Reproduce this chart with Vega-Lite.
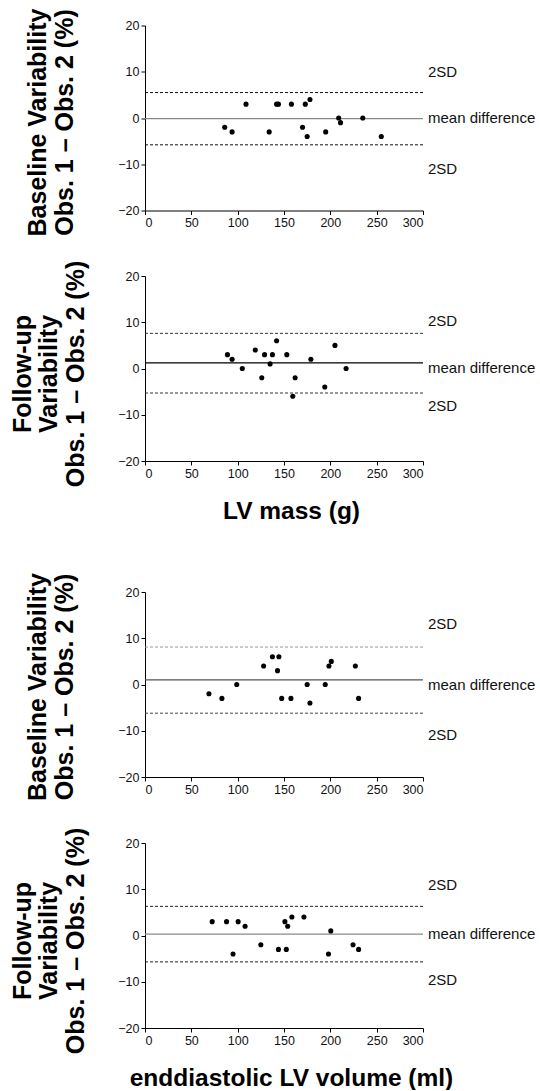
{
  "$schema": "https://vega.github.io/schema/vega-lite/v6.json",
  "background": "white",
  "padding": {"left": 10, "top": 7.5, "right": 0, "bottom": 0},
  "config": {
    "font": "Liberation Sans",
    "view": {"stroke": null},
    "axis": {
      "grid": false, "domainColor": "#000", "domainWidth": 1, "tickColor": "#000", "tickSize": 4,
      "labelFont": "Liberation Sans", "labelFontSize": 12.5, "labelColor": "#111", "labelPadding": 2,
      "titleFont": "Liberation Sans", "titleFontSize": 24.5, "titleFontWeight": "bold", "titleColor": "#000"
    },
    "axisY": {"titleFontSize": 25}
  },
  "datasets": {
    "points": [
      {"panel": 1, "x": 86, "y": -2}, {"panel": 1, "x": 94, "y": -3}, {"panel": 1, "x": 109, "y": 3}, {"panel": 1, "x": 134, "y": -3},
      {"panel": 1, "x": 142, "y": 3}, {"panel": 1, "x": 144, "y": 3}, {"panel": 1, "x": 158, "y": 3}, {"panel": 1, "x": 170, "y": -2},
      {"panel": 1, "x": 173, "y": 3}, {"panel": 1, "x": 175, "y": -4}, {"panel": 1, "x": 178, "y": 4}, {"panel": 1, "x": 195, "y": -3},
      {"panel": 1, "x": 209, "y": 0}, {"panel": 1, "x": 211, "y": -1}, {"panel": 1, "x": 235, "y": 0}, {"panel": 1, "x": 255, "y": -4},
      {"panel": 2, "x": 89, "y": 3}, {"panel": 2, "x": 94, "y": 2}, {"panel": 2, "x": 105, "y": 0}, {"panel": 2, "x": 119, "y": 4},
      {"panel": 2, "x": 126, "y": -2}, {"panel": 2, "x": 129, "y": 3}, {"panel": 2, "x": 135, "y": 1}, {"panel": 2, "x": 137.5, "y": 3},
      {"panel": 2, "x": 142, "y": 6}, {"panel": 2, "x": 153, "y": 3}, {"panel": 2, "x": 159.5, "y": -6}, {"panel": 2, "x": 162, "y": -2},
      {"panel": 2, "x": 179, "y": 2}, {"panel": 2, "x": 194, "y": -4}, {"panel": 2, "x": 205, "y": 5}, {"panel": 2, "x": 217, "y": 0},
      {"panel": 3, "x": 69, "y": -2}, {"panel": 3, "x": 83, "y": -3}, {"panel": 3, "x": 99, "y": 0}, {"panel": 3, "x": 128, "y": 4},
      {"panel": 3, "x": 137.5, "y": 6}, {"panel": 3, "x": 144.5, "y": 6}, {"panel": 3, "x": 143, "y": 3}, {"panel": 3, "x": 147.5, "y": -3},
      {"panel": 3, "x": 157.5, "y": -3}, {"panel": 3, "x": 175, "y": 0}, {"panel": 3, "x": 178, "y": -4}, {"panel": 3, "x": 194.5, "y": 0},
      {"panel": 3, "x": 198.5, "y": 4}, {"panel": 3, "x": 201, "y": 5}, {"panel": 3, "x": 227, "y": 4}, {"panel": 3, "x": 230.5, "y": -3},
      {"panel": 4, "x": 72.5, "y": 3}, {"panel": 4, "x": 88, "y": 3}, {"panel": 4, "x": 95, "y": -4}, {"panel": 4, "x": 100.5, "y": 3},
      {"panel": 4, "x": 108, "y": 2}, {"panel": 4, "x": 125, "y": -2}, {"panel": 4, "x": 144, "y": -3}, {"panel": 4, "x": 151, "y": 3},
      {"panel": 4, "x": 152.5, "y": -3}, {"panel": 4, "x": 154, "y": 2}, {"panel": 4, "x": 158.5, "y": 4}, {"panel": 4, "x": 171.5, "y": 4},
      {"panel": 4, "x": 198, "y": -4}, {"panel": 4, "x": 200.5, "y": 1}, {"panel": 4, "x": 224.5, "y": -2}, {"panel": 4, "x": 230.5, "y": -3}
    ],
    "lines": [
      {"panel": 1, "kind": "mean", "y": -0.15}, {"panel": 1, "kind": "upper", "y": 5.5}, {"panel": 1, "kind": "lower", "y": -5.8},
      {"panel": 2, "kind": "mean", "y": 1.2}, {"panel": 2, "kind": "upper", "y": 7.6}, {"panel": 2, "kind": "lower", "y": -5.3},
      {"panel": 3, "kind": "mean", "y": 1.0}, {"panel": 3, "kind": "upper", "y": 8.1}, {"panel": 3, "kind": "lower", "y": -6.2},
      {"panel": 4, "kind": "mean", "y": 0.3}, {"panel": 4, "kind": "upper", "y": 6.3}, {"panel": 4, "kind": "lower", "y": -5.7}
    ],
    "labels": [
      {"panel": 1, "label": "2SD", "y": 10.0}, {"panel": 1, "label": "mean difference", "y": 0}, {"panel": 1, "label": "2SD", "y": -11.1},
      {"panel": 2, "label": "2SD", "y": 10.2}, {"panel": 2, "label": "mean difference", "y": 0.1}, {"panel": 2, "label": "2SD", "y": -8.2},
      {"panel": 3, "label": "2SD", "y": 13.0}, {"panel": 3, "label": "mean difference", "y": 0}, {"panel": 3, "label": "2SD", "y": -11.0},
      {"panel": 4, "label": "2SD", "y": 10.9}, {"panel": 4, "label": "mean difference", "y": 0.3}, {"panel": 4, "label": "2SD", "y": -9.7}
    ]
  },
  "spacing": 49.5,
  "vconcat": [
    {
      "spacing": 23.5,
      "vconcat": [
        {
          "width": 278, "height": 185,
          "encoding": {"y": {"field": "y", "type": "quantitative", "scale": {"domain": [-20, 20], "nice": false, "zero": false},
            "axis": {"values": [-20, -10, 0, 10, 20], "title": ["Baseline Variability", "Obs. 1 – Obs. 2 (%)"], "titleX": -108, "titleY": 96.5, "titleAngle": -90, "titleAlign": "center", "titleBaseline": "middle", "titleLineHeight": 27.5}}},
          "layer": [
            {"data": {"name": "lines"}, "transform": [{"filter": "datum.panel == 1 && datum.kind == 'mean'"}], "mark": {"type": "rule", "color": "#8a8a8a", "strokeWidth": 1.3}},
            {"data": {"name": "lines"}, "transform": [{"filter": "datum.panel == 1 && datum.kind == 'upper'"}], "mark": {"type": "rule", "color": "#111", "strokeWidth": 1, "strokeDash": [3, 2]}},
            {"data": {"name": "lines"}, "transform": [{"filter": "datum.panel == 1 && datum.kind == 'lower'"}], "mark": {"type": "rule", "color": "#111", "strokeWidth": 1, "strokeDash": [3, 2]}},
            {"data": {"name": "points"}, "transform": [{"filter": "datum.panel == 1"}], "mark": {"type": "circle", "size": 26, "color": "#000", "opacity": 1},
              "encoding": {"x": {"field": "x", "type": "quantitative", "scale": {"domain": [0, 300], "nice": false, "zero": false}, "axis": {"values": [0, 50, 100, 150, 200, 250, 300], "title": null}}}},
            {"data": {"name": "labels"}, "transform": [{"filter": "datum.panel == 1"}], "mark": {"type": "text", "align": "left", "baseline": "middle", "dx": 5, "fontSize": 15, "font": "Liberation Sans", "color": "#111"},
              "encoding": {"x": {"datum": 300}, "text": {"field": "label"}}}
          ]
        },
        {
          "width": 278, "height": 185,
          "encoding": {"y": {"field": "y", "type": "quantitative", "scale": {"domain": [-20, 20], "nice": false, "zero": false},
            "axis": {"values": [-20, -10, 0, 10, 20], "title": ["Follow-up", "Variability", "Obs. 1 – Obs. 2 (%)"], "titleX": -123, "titleY": 97.5, "titleAngle": -90, "titleAlign": "center", "titleBaseline": "middle", "titleLineHeight": 26.5}}},
          "layer": [
            {"data": {"name": "lines"}, "transform": [{"filter": "datum.panel == 2 && datum.kind == 'mean'"}], "mark": {"type": "rule", "color": "#000", "strokeWidth": 1.3}},
            {"data": {"name": "lines"}, "transform": [{"filter": "datum.panel == 2 && datum.kind == 'upper'"}], "mark": {"type": "rule", "color": "#333", "strokeWidth": 1, "strokeDash": [3, 2]}},
            {"data": {"name": "lines"}, "transform": [{"filter": "datum.panel == 2 && datum.kind == 'lower'"}], "mark": {"type": "rule", "color": "#333", "strokeWidth": 1, "strokeDash": [3, 2]}},
            {"data": {"name": "points"}, "transform": [{"filter": "datum.panel == 2"}], "mark": {"type": "circle", "size": 26, "color": "#000", "opacity": 1},
              "encoding": {"x": {"field": "x", "type": "quantitative", "scale": {"domain": [0, 300], "nice": false, "zero": false}, "axis": {"values": [0, 50, 100, 150, 200, 250, 300], "title": "LV mass (g)", "titleX": 146, "titleY": 57, "titleBaseline": "alphabetic", "titleAlign": "center"}}}},
            {"data": {"name": "labels"}, "transform": [{"filter": "datum.panel == 2"}], "mark": {"type": "text", "align": "left", "baseline": "middle", "dx": 5, "fontSize": 15, "font": "Liberation Sans", "color": "#111"},
              "encoding": {"x": {"datum": 300}, "text": {"field": "label"}}}
          ]
        }
      ]
    },
    {
      "spacing": 26,
      "vconcat": [
        {
          "width": 278, "height": 185,
          "encoding": {"y": {"field": "y", "type": "quantitative", "scale": {"domain": [-20, 20], "nice": false, "zero": false},
            "axis": {"values": [-20, -10, 0, 10, 20], "title": ["Baseline Variability", "Obs. 1 – Obs. 2 (%)"], "titleX": -108, "titleY": 94.5, "titleAngle": -90, "titleAlign": "center", "titleBaseline": "middle", "titleLineHeight": 27.5}}},
          "layer": [
            {"data": {"name": "lines"}, "transform": [{"filter": "datum.panel == 3 && datum.kind == 'mean'"}], "mark": {"type": "rule", "color": "#555", "strokeWidth": 1.3}},
            {"data": {"name": "lines"}, "transform": [{"filter": "datum.panel == 3 && datum.kind == 'upper'"}], "mark": {"type": "rule", "color": "#999", "strokeWidth": 1, "strokeDash": [3, 2]}},
            {"data": {"name": "lines"}, "transform": [{"filter": "datum.panel == 3 && datum.kind == 'lower'"}], "mark": {"type": "rule", "color": "#444", "strokeWidth": 1, "strokeDash": [3, 2]}},
            {"data": {"name": "points"}, "transform": [{"filter": "datum.panel == 3"}], "mark": {"type": "circle", "size": 26, "color": "#000", "opacity": 1},
              "encoding": {"x": {"field": "x", "type": "quantitative", "scale": {"domain": [0, 300], "nice": false, "zero": false}, "axis": {"values": [0, 50, 100, 150, 200, 250, 300], "title": null}}}},
            {"data": {"name": "labels"}, "transform": [{"filter": "datum.panel == 3"}], "mark": {"type": "text", "align": "left", "baseline": "middle", "dx": 5, "fontSize": 15, "font": "Liberation Sans", "color": "#111"},
              "encoding": {"x": {"datum": 300}, "text": {"field": "label"}}}
          ]
        },
        {
          "width": 278, "height": 185,
          "encoding": {"y": {"field": "y", "type": "quantitative", "scale": {"domain": [-20, 20], "nice": false, "zero": false},
            "axis": {"values": [-20, -10, 0, 10, 20], "title": ["Follow-up", "Variability", "Obs. 1 – Obs. 2 (%)"], "titleX": -123, "titleY": 97.5, "titleAngle": -90, "titleAlign": "center", "titleBaseline": "middle", "titleLineHeight": 26.5}}},
          "layer": [
            {"data": {"name": "lines"}, "transform": [{"filter": "datum.panel == 4 && datum.kind == 'mean'"}], "mark": {"type": "rule", "color": "#8a8a8a", "strokeWidth": 1.3}},
            {"data": {"name": "lines"}, "transform": [{"filter": "datum.panel == 4 && datum.kind == 'upper'"}], "mark": {"type": "rule", "color": "#222", "strokeWidth": 1, "strokeDash": [3, 2]}},
            {"data": {"name": "lines"}, "transform": [{"filter": "datum.panel == 4 && datum.kind == 'lower'"}], "mark": {"type": "rule", "color": "#222", "strokeWidth": 1, "strokeDash": [3, 2]}},
            {"data": {"name": "points"}, "transform": [{"filter": "datum.panel == 4"}], "mark": {"type": "circle", "size": 26, "color": "#000", "opacity": 1},
              "encoding": {"x": {"field": "x", "type": "quantitative", "scale": {"domain": [0, 300], "nice": false, "zero": false}, "axis": {"values": [0, 50, 100, 150, 200, 250, 300], "title": "enddiastolic LV volume (ml)", "titleX": 146, "titleY": 57, "titleBaseline": "alphabetic", "titleAlign": "center"}}}},
            {"data": {"name": "labels"}, "transform": [{"filter": "datum.panel == 4"}], "mark": {"type": "text", "align": "left", "baseline": "middle", "dx": 5, "fontSize": 15, "font": "Liberation Sans", "color": "#111"},
              "encoding": {"x": {"datum": 300}, "text": {"field": "label"}}}
          ]
        }
      ]
    }
  ]
}
